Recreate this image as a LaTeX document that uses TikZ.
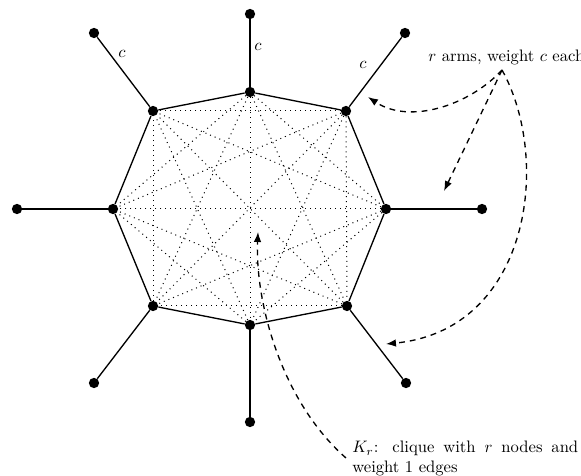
\documentclass[tikz,border=0pt]{standalone}
\usetikzlibrary{arrows.meta}
\begin{document}
\begin{tikzpicture}[x=0.602pt,y=-0.602pt,
  vtx/.style={circle,fill=black,inner sep=0pt,minimum size=6.2pt},
  armline/.style={line width=0.8pt},
  cliq/.style={line width=0.6pt,dash pattern=on 0.6pt off 2.4pt},
  callout/.style={line width=0.8pt,dash pattern=on 3.5pt off 3pt,-{Latex[length=6pt,width=4.5pt]}},
  lbl/.style={inner sep=0pt}]
\useasboundingbox (0,0) rectangle (581,476);
% inner octagon vertices
\foreach \n/\x/\y in {1/250/92,2/346/111,3/386/209,4/347/306,5/250/325,6/153/306,7/113/209,8/153/111}
  \node[vtx] (i\n) at (\x,\y) {};
% outer arm ends
\foreach \n/\x/\y in {1/250/14,2/405/33,3/482/209,4/406/383,5/250/422,6/94/383,7/17/209,8/94/33}
  \node[vtx] (o\n) at (\x,\y) {};
% clique edges (dotted)
\foreach \a/\b in {1/3,1/4,1/5,1/6,1/7,2/4,2/5,2/6,2/7,2/8,3/5,3/6,3/7,3/8,4/6,4/7,4/8,5/7,5/8,6/8}
  \draw[cliq] (i\a) -- (i\b);
% octagon
\draw[armline] (i1) -- (i2) -- (i3) -- (i4) -- (i5) -- (i6) -- (i7) -- (i8) -- (i1);
% arms
\foreach \n in {1,...,8}
  \draw[armline] (i\n) -- (o\n);
% arm labels
\node[lbl] (c1) at (258,47) {$c$};
\node[lbl] (c2) at (122,54) {$c$};
\node[lbl] (c3) at (363,65) {$c$};
% annotations
\node[lbl,anchor=base west] (arms) at (428,62) {$r$ arms, weight $c$ each};
\node[lbl,anchor=north west,text width=136pt,align=justify] (kr) at (352,441)
  {$K_r$: clique with $r$ nodes and weight 1 edges};
\coordinate (hub) at (502,70);
\coordinate (ta) at (368,97);
\coordinate (tb) at (444,191);
\coordinate (tc) at (386,344);
\coordinate (ks) at (346,458);
\coordinate (tk) at (258,232);
\draw[callout] (hub) .. controls (470,105) and (410,125) .. (ta);
\draw[callout] (hub) -- (tb);
\draw[callout] (hub) .. controls (552,160) and (530,330) .. (tc);
\draw[callout] (ks) .. controls (280,400) and (255,300) .. (tk);
\end{tikzpicture}
\end{document}
